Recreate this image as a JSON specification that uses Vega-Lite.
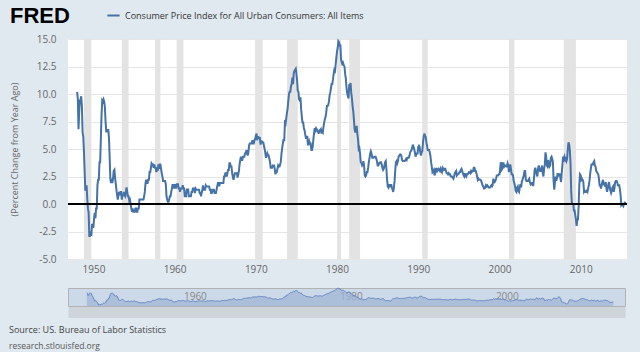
{
"$schema": "https://vega.github.io/schema/vega-lite/v6.json",
"background": "#e1e9f0",
"autosize": {"type": "pad"},
"padding": {"left": 8, "top": 5, "right": 30, "bottom": 20},
"config": {
  "font": "Open Sans",
  "locale": {"number": {"decimal": ".", "thousands": ",", "grouping": [3], "currency": ["$", ""], "minus": "-"}},
  "concat": {"spacing": 11},
  "title": {"fontWeight": "normal"}
},
"datasets": {
"rec": [
{"start":"1948-11-01","end":"1949-10-01"},
{"start":"1953-07-01","end":"1954-05-01"},
{"start":"1957-08-01","end":"1958-04-01"},
{"start":"1960-04-01","end":"1961-02-01"},
{"start":"1969-12-01","end":"1970-11-01"},
{"start":"1973-11-01","end":"1975-03-01"},
{"start":"1980-01-01","end":"1980-07-01"},
{"start":"1981-07-01","end":"1982-11-01"},
{"start":"1990-07-01","end":"1991-03-01"},
{"start":"2001-03-01","end":"2001-11-01"},
{"start":"2007-12-01","end":"2009-06-01"}
],
"cpi": [
{"d":"1948-01","v":10.2},{"d":"1948-02","v":9.5},{"d":"1948-03","v":6.8},{"d":"1948-04","v":8.3},{"d":"1948-05","v":9.4},{"d":"1948-06","v":9.5},{"d":"1948-07","v":9.8},{"d":"1948-08","v":8.9},{"d":"1948-09","v":6.5},{"d":"1948-10","v":6.1},{"d":"1948-11","v":4.8},{"d":"1948-12","v":3.0},
{"d":"1949-01","v":1.3},{"d":"1949-02","v":1.3},{"d":"1949-03","v":1.7},{"d":"1949-04","v":0.4},{"d":"1949-05","v":-0.4},{"d":"1949-06","v":-0.8},{"d":"1949-07","v":-2.9},{"d":"1949-08","v":-2.9},{"d":"1949-09","v":-2.5},{"d":"1949-10","v":-2.9},{"d":"1949-11","v":-1.8},{"d":"1949-12","v":-2.1},
{"d":"1950-01","v":-2.1},{"d":"1950-02","v":-1.3},{"d":"1950-03","v":-0.8},{"d":"1950-04","v":-1.3},{"d":"1950-05","v":-0.4},{"d":"1950-06","v":-0.4},{"d":"1950-07","v":1.7},{"d":"1950-08","v":2.2},{"d":"1950-09","v":2.2},{"d":"1950-10","v":3.8},{"d":"1950-11","v":3.8},{"d":"1950-12","v":5.9},
{"d":"1951-01","v":8.1},{"d":"1951-02","v":9.4},{"d":"1951-03","v":9.3},{"d":"1951-04","v":9.5},{"d":"1951-05","v":9.3},{"d":"1951-06","v":8.8},{"d":"1951-07","v":7.5},{"d":"1951-08","v":6.6},{"d":"1951-09","v":6.6},{"d":"1951-10","v":6.6},{"d":"1951-11","v":6.8},{"d":"1951-12","v":6.0},
{"d":"1952-01","v":4.3},{"d":"1952-02","v":2.3},{"d":"1952-03","v":1.9},{"d":"1952-04","v":2.3},{"d":"1952-05","v":1.9},{"d":"1952-06","v":2.3},{"d":"1952-07","v":3.0},{"d":"1952-08","v":3.1},{"d":"1952-09","v":2.4},{"d":"1952-10","v":1.9},{"d":"1952-11","v":1.3},{"d":"1952-12","v":0.8},
{"d":"1953-01","v":0.4},{"d":"1953-02","v":0.8},{"d":"1953-03","v":1.1},{"d":"1953-04","v":0.8},{"d":"1953-05","v":1.1},{"d":"1953-06","v":1.1},{"d":"1953-07","v":0.4},{"d":"1953-08","v":0.8},{"d":"1953-09","v":0.8},{"d":"1953-10","v":1.1},{"d":"1953-11","v":0.8},{"d":"1953-12","v":0.7},
{"d":"1954-01","v":1.1},{"d":"1954-02","v":1.5},{"d":"1954-03","v":1.1},{"d":"1954-04","v":0.7},{"d":"1954-05","v":0.7},{"d":"1954-06","v":0.3},{"d":"1954-07","v":0.4},{"d":"1954-08","v":0.0},{"d":"1954-09","v":-0.4},{"d":"1954-10","v":-0.7},{"d":"1954-11","v":-0.4},{"d":"1954-12","v":-0.7},
{"d":"1955-01","v":-0.7},{"d":"1955-02","v":-0.7},{"d":"1955-03","v":-0.4},{"d":"1955-04","v":-0.4},{"d":"1955-05","v":-0.7},{"d":"1955-06","v":-0.7},{"d":"1955-07","v":-0.4},{"d":"1955-08","v":-0.4},{"d":"1955-09","v":0.4},{"d":"1955-10","v":0.4},{"d":"1955-11","v":0.4},{"d":"1955-12","v":0.4},
{"d":"1956-01","v":0.4},{"d":"1956-02","v":0.4},{"d":"1956-03","v":0.4},{"d":"1956-04","v":0.7},{"d":"1956-05","v":1.1},{"d":"1956-06","v":1.9},{"d":"1956-07","v":2.2},{"d":"1956-08","v":1.9},{"d":"1956-09","v":1.9},{"d":"1956-10","v":2.2},{"d":"1956-11","v":2.2},{"d":"1956-12","v":2.9},
{"d":"1957-01","v":2.9},{"d":"1957-02","v":3.3},{"d":"1957-03","v":3.7},{"d":"1957-04","v":3.6},{"d":"1957-05","v":3.6},{"d":"1957-06","v":3.3},{"d":"1957-07","v":3.6},{"d":"1957-08","v":3.3},{"d":"1957-09","v":3.3},{"d":"1957-10","v":2.9},{"d":"1957-11","v":3.3},{"d":"1957-12","v":3.0},
{"d":"1958-01","v":3.6},{"d":"1958-02","v":3.2},{"d":"1958-03","v":3.6},{"d":"1958-04","v":3.6},{"d":"1958-05","v":3.2},{"d":"1958-06","v":2.8},{"d":"1958-07","v":2.5},{"d":"1958-08","v":2.1},{"d":"1958-09","v":2.1},{"d":"1958-10","v":2.1},{"d":"1958-11","v":2.1},{"d":"1958-12","v":1.8},
{"d":"1959-01","v":0.7},{"d":"1959-02","v":0.4},{"d":"1959-03","v":0.2},{"d":"1959-04","v":0.2},{"d":"1959-05","v":0.4},{"d":"1959-06","v":0.7},{"d":"1959-07","v":0.7},{"d":"1959-08","v":1.1},{"d":"1959-09","v":1.4},{"d":"1959-10","v":1.8},{"d":"1959-11","v":1.4},{"d":"1959-12","v":1.8},
{"d":"1960-01","v":1.4},{"d":"1960-02","v":1.8},{"d":"1960-03","v":1.4},{"d":"1960-04","v":1.8},{"d":"1960-05","v":1.8},{"d":"1960-06","v":1.8},{"d":"1960-07","v":1.4},{"d":"1960-08","v":1.4},{"d":"1960-09","v":1.1},{"d":"1960-10","v":1.4},{"d":"1960-11","v":1.4},{"d":"1960-12","v":1.4},
{"d":"1961-01","v":1.7},{"d":"1961-02","v":1.4},{"d":"1961-03","v":1.4},{"d":"1961-04","v":0.7},{"d":"1961-05","v":0.7},{"d":"1961-06","v":0.7},{"d":"1961-07","v":1.4},{"d":"1961-08","v":1.1},{"d":"1961-09","v":1.4},{"d":"1961-10","v":0.7},{"d":"1961-11","v":0.7},{"d":"1961-12","v":0.7},
{"d":"1962-01","v":0.7},{"d":"1962-02","v":1.1},{"d":"1962-03","v":1.1},{"d":"1962-04","v":1.4},{"d":"1962-05","v":1.4},{"d":"1962-06","v":1.4},{"d":"1962-07","v":1.0},{"d":"1962-08","v":1.4},{"d":"1962-09","v":1.3},{"d":"1962-10","v":1.3},{"d":"1962-11","v":1.3},{"d":"1962-12","v":1.3},
{"d":"1963-01","v":1.3},{"d":"1963-02","v":1.0},{"d":"1963-03","v":1.0},{"d":"1963-04","v":0.7},{"d":"1963-05","v":1.0},{"d":"1963-06","v":1.3},{"d":"1963-07","v":1.7},{"d":"1963-08","v":1.3},{"d":"1963-09","v":1.3},{"d":"1963-10","v":1.3},{"d":"1963-11","v":1.7},{"d":"1963-12","v":1.6},
{"d":"1964-01","v":1.6},{"d":"1964-02","v":1.6},{"d":"1964-03","v":1.6},{"d":"1964-04","v":1.6},{"d":"1964-05","v":1.3},{"d":"1964-06","v":1.3},{"d":"1964-07","v":1.0},{"d":"1964-08","v":1.0},{"d":"1964-09","v":1.3},{"d":"1964-10","v":1.3},{"d":"1964-11","v":1.3},{"d":"1964-12","v":1.0},
{"d":"1965-01","v":1.0},{"d":"1965-02","v":1.0},{"d":"1965-03","v":1.3},{"d":"1965-04","v":1.6},{"d":"1965-05","v":1.9},{"d":"1965-06","v":1.9},{"d":"1965-07","v":1.6},{"d":"1965-08","v":1.9},{"d":"1965-09","v":1.9},{"d":"1965-10","v":1.9},{"d":"1965-11","v":1.9},{"d":"1965-12","v":1.9},
{"d":"1966-01","v":1.9},{"d":"1966-02","v":2.5},{"d":"1966-03","v":2.5},{"d":"1966-04","v":2.8},{"d":"1966-05","v":2.8},{"d":"1966-06","v":2.5},{"d":"1966-07","v":2.8},{"d":"1966-08","v":3.1},{"d":"1966-09","v":3.1},{"d":"1966-10","v":3.7},{"d":"1966-11","v":3.7},{"d":"1966-12","v":3.4},
{"d":"1967-01","v":3.4},{"d":"1967-02","v":2.8},{"d":"1967-03","v":2.5},{"d":"1967-04","v":2.2},{"d":"1967-05","v":2.5},{"d":"1967-06","v":2.8},{"d":"1967-07","v":2.8},{"d":"1967-08","v":2.8},{"d":"1967-09","v":2.8},{"d":"1967-10","v":2.4},{"d":"1967-11","v":2.7},{"d":"1967-12","v":3.0},
{"d":"1968-01","v":3.6},{"d":"1968-02","v":4.0},{"d":"1968-03","v":4.3},{"d":"1968-04","v":4.0},{"d":"1968-05","v":4.0},{"d":"1968-06","v":4.3},{"d":"1968-07","v":4.3},{"d":"1968-08","v":4.3},{"d":"1968-09","v":4.6},{"d":"1968-10","v":4.6},{"d":"1968-11","v":4.9},{"d":"1968-12","v":4.7},
{"d":"1969-01","v":4.4},{"d":"1969-02","v":4.7},{"d":"1969-03","v":5.3},{"d":"1969-04","v":5.5},{"d":"1969-05","v":5.5},{"d":"1969-06","v":5.5},{"d":"1969-07","v":5.5},{"d":"1969-08","v":5.8},{"d":"1969-09","v":5.5},{"d":"1969-10","v":5.5},{"d":"1969-11","v":5.8},{"d":"1969-12","v":5.9},
{"d":"1970-01","v":6.2},{"d":"1970-02","v":6.4},{"d":"1970-03","v":5.8},{"d":"1970-04","v":6.1},{"d":"1970-05","v":6.1},{"d":"1970-06","v":6.0},{"d":"1970-07","v":6.0},{"d":"1970-08","v":5.4},{"d":"1970-09","v":5.7},{"d":"1970-10","v":5.7},{"d":"1970-11","v":5.6},{"d":"1970-12","v":5.6},
{"d":"1971-01","v":5.3},{"d":"1971-02","v":5.0},{"d":"1971-03","v":4.7},{"d":"1971-04","v":4.2},{"d":"1971-05","v":4.4},{"d":"1971-06","v":4.6},{"d":"1971-07","v":4.4},{"d":"1971-08","v":4.4},{"d":"1971-09","v":4.1},{"d":"1971-10","v":3.8},{"d":"1971-11","v":3.3},{"d":"1971-12","v":3.3},
{"d":"1972-01","v":3.3},{"d":"1972-02","v":3.5},{"d":"1972-03","v":3.5},{"d":"1972-04","v":3.5},{"d":"1972-05","v":3.2},{"d":"1972-06","v":2.7},{"d":"1972-07","v":2.9},{"d":"1972-08","v":2.9},{"d":"1972-09","v":3.2},{"d":"1972-10","v":3.5},{"d":"1972-11","v":3.4},{"d":"1972-12","v":3.4},
{"d":"1973-01","v":3.6},{"d":"1973-02","v":3.9},{"d":"1973-03","v":4.6},{"d":"1973-04","v":5.1},{"d":"1973-05","v":5.5},{"d":"1973-06","v":5.9},{"d":"1973-07","v":5.7},{"d":"1973-08","v":7.4},{"d":"1973-09","v":7.3},{"d":"1973-10","v":7.8},{"d":"1973-11","v":8.3},{"d":"1973-12","v":8.7},
{"d":"1974-01","v":9.4},{"d":"1974-02","v":10.0},{"d":"1974-03","v":10.2},{"d":"1974-04","v":10.2},{"d":"1974-05","v":10.7},{"d":"1974-06","v":10.9},{"d":"1974-07","v":11.5},{"d":"1974-08","v":10.9},{"d":"1974-09","v":11.9},{"d":"1974-10","v":12.1},{"d":"1974-11","v":12.2},{"d":"1974-12","v":12.3},
{"d":"1975-01","v":11.8},{"d":"1975-02","v":11.2},{"d":"1975-03","v":10.3},{"d":"1975-04","v":10.2},{"d":"1975-05","v":9.5},{"d":"1975-06","v":9.4},{"d":"1975-07","v":9.7},{"d":"1975-08","v":8.6},{"d":"1975-09","v":7.9},{"d":"1975-10","v":7.4},{"d":"1975-11","v":7.4},{"d":"1975-12","v":6.9},
{"d":"1976-01","v":6.7},{"d":"1976-02","v":6.3},{"d":"1976-03","v":6.0},{"d":"1976-04","v":6.0},{"d":"1976-05","v":6.2},{"d":"1976-06","v":5.4},{"d":"1976-07","v":5.4},{"d":"1976-08","v":5.7},{"d":"1976-09","v":5.5},{"d":"1976-10","v":5.5},{"d":"1976-11","v":4.9},{"d":"1976-12","v":4.9},
{"d":"1977-01","v":5.2},{"d":"1977-02","v":5.9},{"d":"1977-03","v":6.4},{"d":"1977-04","v":6.9},{"d":"1977-05","v":6.7},{"d":"1977-06","v":6.9},{"d":"1977-07","v":6.8},{"d":"1977-08","v":6.6},{"d":"1977-09","v":6.6},{"d":"1977-10","v":6.4},{"d":"1977-11","v":6.7},{"d":"1977-12","v":6.7},
{"d":"1978-01","v":6.8},{"d":"1978-02","v":6.4},{"d":"1978-03","v":6.6},{"d":"1978-04","v":6.5},{"d":"1978-05","v":7.0},{"d":"1978-06","v":7.4},{"d":"1978-07","v":7.7},{"d":"1978-08","v":7.9},{"d":"1978-09","v":8.3},{"d":"1978-10","v":8.9},{"d":"1978-11","v":8.9},{"d":"1978-12","v":9.0},
{"d":"1979-01","v":9.3},{"d":"1979-02","v":9.9},{"d":"1979-03","v":10.1},{"d":"1979-04","v":10.5},{"d":"1979-05","v":10.9},{"d":"1979-06","v":10.9},{"d":"1979-07","v":11.3},{"d":"1979-08","v":11.8},{"d":"1979-09","v":12.2},{"d":"1979-10","v":12.1},{"d":"1979-11","v":12.7},{"d":"1979-12","v":13.3},
{"d":"1980-01","v":13.9},{"d":"1980-02","v":14.2},{"d":"1980-03","v":14.8},{"d":"1980-04","v":14.7},{"d":"1980-05","v":14.4},{"d":"1980-06","v":14.4},{"d":"1980-07","v":13.1},{"d":"1980-08","v":12.9},{"d":"1980-09","v":12.6},{"d":"1980-10","v":12.8},{"d":"1980-11","v":12.6},{"d":"1980-12","v":12.5},
{"d":"1981-01","v":11.8},{"d":"1981-02","v":11.4},{"d":"1981-03","v":10.6},{"d":"1981-04","v":10.1},{"d":"1981-05","v":9.8},{"d":"1981-06","v":9.6},{"d":"1981-07","v":10.8},{"d":"1981-08","v":10.8},{"d":"1981-09","v":11.0},{"d":"1981-10","v":10.1},{"d":"1981-11","v":9.6},{"d":"1981-12","v":8.9},
{"d":"1982-01","v":8.4},{"d":"1982-02","v":7.6},{"d":"1982-03","v":6.8},{"d":"1982-04","v":6.5},{"d":"1982-05","v":6.7},{"d":"1982-06","v":7.1},{"d":"1982-07","v":6.4},{"d":"1982-08","v":5.9},{"d":"1982-09","v":5.0},{"d":"1982-10","v":5.1},{"d":"1982-11","v":4.6},{"d":"1982-12","v":3.8},
{"d":"1983-01","v":3.7},{"d":"1983-02","v":3.5},{"d":"1983-03","v":3.6},{"d":"1983-04","v":3.9},{"d":"1983-05","v":3.5},{"d":"1983-06","v":2.6},{"d":"1983-07","v":2.5},{"d":"1983-08","v":2.6},{"d":"1983-09","v":2.9},{"d":"1983-10","v":2.9},{"d":"1983-11","v":3.3},{"d":"1983-12","v":3.8},
{"d":"1984-01","v":4.2},{"d":"1984-02","v":4.6},{"d":"1984-03","v":4.8},{"d":"1984-04","v":4.6},{"d":"1984-05","v":4.2},{"d":"1984-06","v":4.2},{"d":"1984-07","v":4.2},{"d":"1984-08","v":4.3},{"d":"1984-09","v":4.3},{"d":"1984-10","v":4.3},{"d":"1984-11","v":4.1},{"d":"1984-12","v":3.9},
{"d":"1985-01","v":3.5},{"d":"1985-02","v":3.5},{"d":"1985-03","v":3.7},{"d":"1985-04","v":3.7},{"d":"1985-05","v":3.8},{"d":"1985-06","v":3.8},{"d":"1985-07","v":3.6},{"d":"1985-08","v":3.3},{"d":"1985-09","v":3.1},{"d":"1985-10","v":3.2},{"d":"1985-11","v":3.5},{"d":"1985-12","v":3.8},
{"d":"1986-01","v":3.9},{"d":"1986-02","v":3.1},{"d":"1986-03","v":2.2},{"d":"1986-04","v":1.6},{"d":"1986-05","v":1.5},{"d":"1986-06","v":1.8},{"d":"1986-07","v":1.6},{"d":"1986-08","v":1.6},{"d":"1986-09","v":1.8},{"d":"1986-10","v":1.5},{"d":"1986-11","v":1.3},{"d":"1986-12","v":1.1},
{"d":"1987-01","v":1.5},{"d":"1987-02","v":2.1},{"d":"1987-03","v":3.0},{"d":"1987-04","v":3.8},{"d":"1987-05","v":3.9},{"d":"1987-06","v":3.7},{"d":"1987-07","v":3.9},{"d":"1987-08","v":4.3},{"d":"1987-09","v":4.4},{"d":"1987-10","v":4.5},{"d":"1987-11","v":4.5},{"d":"1987-12","v":4.4},
{"d":"1988-01","v":4.0},{"d":"1988-02","v":3.9},{"d":"1988-03","v":3.9},{"d":"1988-04","v":3.9},{"d":"1988-05","v":3.9},{"d":"1988-06","v":4.0},{"d":"1988-07","v":4.1},{"d":"1988-08","v":4.0},{"d":"1988-09","v":4.2},{"d":"1988-10","v":4.2},{"d":"1988-11","v":4.2},{"d":"1988-12","v":4.4},
{"d":"1989-01","v":4.7},{"d":"1989-02","v":4.8},{"d":"1989-03","v":4.9},{"d":"1989-04","v":5.1},{"d":"1989-05","v":5.4},{"d":"1989-06","v":5.2},{"d":"1989-07","v":5.0},{"d":"1989-08","v":4.7},{"d":"1989-09","v":4.3},{"d":"1989-10","v":4.5},{"d":"1989-11","v":4.6},{"d":"1989-12","v":4.6},
{"d":"1990-01","v":5.2},{"d":"1990-02","v":5.3},{"d":"1990-03","v":5.2},{"d":"1990-04","v":4.7},{"d":"1990-05","v":4.4},{"d":"1990-06","v":4.7},{"d":"1990-07","v":4.8},{"d":"1990-08","v":5.6},{"d":"1990-09","v":6.1},{"d":"1990-10","v":6.4},{"d":"1990-11","v":6.2},{"d":"1990-12","v":6.1},
{"d":"1991-01","v":5.6},{"d":"1991-02","v":5.3},{"d":"1991-03","v":4.9},{"d":"1991-04","v":4.9},{"d":"1991-05","v":4.9},{"d":"1991-06","v":4.7},{"d":"1991-07","v":4.4},{"d":"1991-08","v":3.8},{"d":"1991-09","v":3.4},{"d":"1991-10","v":2.9},{"d":"1991-11","v":3.0},{"d":"1991-12","v":3.1},
{"d":"1992-01","v":2.6},{"d":"1992-02","v":2.8},{"d":"1992-03","v":3.2},{"d":"1992-04","v":3.2},{"d":"1992-05","v":3.0},{"d":"1992-06","v":3.1},{"d":"1992-07","v":3.2},{"d":"1992-08","v":3.1},{"d":"1992-09","v":3.0},{"d":"1992-10","v":3.2},{"d":"1992-11","v":3.0},{"d":"1992-12","v":2.9},
{"d":"1993-01","v":3.3},{"d":"1993-02","v":3.2},{"d":"1993-03","v":3.1},{"d":"1993-04","v":3.2},{"d":"1993-05","v":3.2},{"d":"1993-06","v":3.0},{"d":"1993-07","v":2.8},{"d":"1993-08","v":2.8},{"d":"1993-09","v":2.7},{"d":"1993-10","v":2.8},{"d":"1993-11","v":2.7},{"d":"1993-12","v":2.7},
{"d":"1994-01","v":2.5},{"d":"1994-02","v":2.5},{"d":"1994-03","v":2.5},{"d":"1994-04","v":2.4},{"d":"1994-05","v":2.3},{"d":"1994-06","v":2.5},{"d":"1994-07","v":2.8},{"d":"1994-08","v":2.9},{"d":"1994-09","v":3.0},{"d":"1994-10","v":2.6},{"d":"1994-11","v":2.7},{"d":"1994-12","v":2.7},
{"d":"1995-01","v":2.8},{"d":"1995-02","v":2.9},{"d":"1995-03","v":2.9},{"d":"1995-04","v":3.1},{"d":"1995-05","v":3.2},{"d":"1995-06","v":3.0},{"d":"1995-07","v":2.8},{"d":"1995-08","v":2.6},{"d":"1995-09","v":2.5},{"d":"1995-10","v":2.8},{"d":"1995-11","v":2.6},{"d":"1995-12","v":2.5},
{"d":"1996-01","v":2.7},{"d":"1996-02","v":2.7},{"d":"1996-03","v":2.8},{"d":"1996-04","v":2.9},{"d":"1996-05","v":2.9},{"d":"1996-06","v":2.8},{"d":"1996-07","v":3.0},{"d":"1996-08","v":2.9},{"d":"1996-09","v":3.0},{"d":"1996-10","v":3.0},{"d":"1996-11","v":3.3},{"d":"1996-12","v":3.3},
{"d":"1997-01","v":3.0},{"d":"1997-02","v":3.0},{"d":"1997-03","v":2.8},{"d":"1997-04","v":2.5},{"d":"1997-05","v":2.2},{"d":"1997-06","v":2.3},{"d":"1997-07","v":2.2},{"d":"1997-08","v":2.2},{"d":"1997-09","v":2.2},{"d":"1997-10","v":2.1},{"d":"1997-11","v":1.9},{"d":"1997-12","v":1.7},
{"d":"1998-01","v":1.6},{"d":"1998-02","v":1.4},{"d":"1998-03","v":1.4},{"d":"1998-04","v":1.5},{"d":"1998-05","v":1.7},{"d":"1998-06","v":1.6},{"d":"1998-07","v":1.7},{"d":"1998-08","v":1.6},{"d":"1998-09","v":1.5},{"d":"1998-10","v":1.5},{"d":"1998-11","v":1.5},{"d":"1998-12","v":1.6},
{"d":"1999-01","v":1.7},{"d":"1999-02","v":1.6},{"d":"1999-03","v":1.7},{"d":"1999-04","v":2.3},{"d":"1999-05","v":2.1},{"d":"1999-06","v":2.0},{"d":"1999-07","v":2.1},{"d":"1999-08","v":2.3},{"d":"1999-09","v":2.6},{"d":"1999-10","v":2.6},{"d":"1999-11","v":2.6},{"d":"1999-12","v":2.7},
{"d":"2000-01","v":2.7},{"d":"2000-02","v":3.2},{"d":"2000-03","v":3.8},{"d":"2000-04","v":3.1},{"d":"2000-05","v":3.2},{"d":"2000-06","v":3.7},{"d":"2000-07","v":3.7},{"d":"2000-08","v":3.4},{"d":"2000-09","v":3.5},{"d":"2000-10","v":3.5},{"d":"2000-11","v":3.4},{"d":"2000-12","v":3.4},
{"d":"2001-01","v":3.7},{"d":"2001-02","v":3.5},{"d":"2001-03","v":2.9},{"d":"2001-04","v":3.3},{"d":"2001-05","v":3.6},{"d":"2001-06","v":3.2},{"d":"2001-07","v":2.7},{"d":"2001-08","v":2.7},{"d":"2001-09","v":2.6},{"d":"2001-10","v":2.1},{"d":"2001-11","v":1.9},{"d":"2001-12","v":1.6},
{"d":"2002-01","v":1.2},{"d":"2002-02","v":1.1},{"d":"2002-03","v":1.5},{"d":"2002-04","v":1.6},{"d":"2002-05","v":1.2},{"d":"2002-06","v":1.1},{"d":"2002-07","v":1.5},{"d":"2002-08","v":1.8},{"d":"2002-09","v":1.5},{"d":"2002-10","v":2.0},{"d":"2002-11","v":2.2},{"d":"2002-12","v":2.4},
{"d":"2003-01","v":2.6},{"d":"2003-02","v":3.0},{"d":"2003-03","v":3.0},{"d":"2003-04","v":2.2},{"d":"2003-05","v":2.1},{"d":"2003-06","v":2.1},{"d":"2003-07","v":2.1},{"d":"2003-08","v":2.2},{"d":"2003-09","v":2.3},{"d":"2003-10","v":2.0},{"d":"2003-11","v":1.8},{"d":"2003-12","v":1.9},
{"d":"2004-01","v":1.9},{"d":"2004-02","v":1.7},{"d":"2004-03","v":1.7},{"d":"2004-04","v":2.3},{"d":"2004-05","v":3.1},{"d":"2004-06","v":3.3},{"d":"2004-07","v":3.0},{"d":"2004-08","v":2.7},{"d":"2004-09","v":2.5},{"d":"2004-10","v":3.2},{"d":"2004-11","v":3.5},{"d":"2004-12","v":3.3},
{"d":"2005-01","v":3.0},{"d":"2005-02","v":3.0},{"d":"2005-03","v":3.1},{"d":"2005-04","v":3.5},{"d":"2005-05","v":2.8},{"d":"2005-06","v":2.5},{"d":"2005-07","v":3.2},{"d":"2005-08","v":3.6},{"d":"2005-09","v":4.7},{"d":"2005-10","v":4.3},{"d":"2005-11","v":3.5},{"d":"2005-12","v":3.4},
{"d":"2006-01","v":4.0},{"d":"2006-02","v":3.6},{"d":"2006-03","v":3.4},{"d":"2006-04","v":3.5},{"d":"2006-05","v":4.2},{"d":"2006-06","v":4.3},{"d":"2006-07","v":4.1},{"d":"2006-08","v":3.8},{"d":"2006-09","v":2.1},{"d":"2006-10","v":1.3},{"d":"2006-11","v":2.0},{"d":"2006-12","v":2.5},
{"d":"2007-01","v":2.1},{"d":"2007-02","v":2.4},{"d":"2007-03","v":2.8},{"d":"2007-04","v":2.6},{"d":"2007-05","v":2.7},{"d":"2007-06","v":2.7},{"d":"2007-07","v":2.4},{"d":"2007-08","v":2.0},{"d":"2007-09","v":2.8},{"d":"2007-10","v":3.5},{"d":"2007-11","v":4.3},{"d":"2007-12","v":4.1},
{"d":"2008-01","v":4.3},{"d":"2008-02","v":4.0},{"d":"2008-03","v":4.1},{"d":"2008-04","v":3.9},{"d":"2008-05","v":4.1},{"d":"2008-06","v":5.0},{"d":"2008-07","v":5.6},{"d":"2008-08","v":5.4},{"d":"2008-09","v":4.9},{"d":"2008-10","v":3.7},{"d":"2008-11","v":1.1},{"d":"2008-12","v":0.1},
{"d":"2009-01","v":0.0},{"d":"2009-02","v":0.0},{"d":"2009-03","v":-0.6},{"d":"2009-04","v":-0.6},{"d":"2009-05","v":-1.0},{"d":"2009-06","v":-1.4},{"d":"2009-07","v":-2.0},{"d":"2009-08","v":-1.5},{"d":"2009-09","v":-1.4},{"d":"2009-10","v":-0.2},{"d":"2009-11","v":1.8},{"d":"2009-12","v":2.7},
{"d":"2010-01","v":2.6},{"d":"2010-02","v":2.2},{"d":"2010-03","v":2.3},{"d":"2010-04","v":2.2},{"d":"2010-05","v":2.0},{"d":"2010-06","v":1.1},{"d":"2010-07","v":1.2},{"d":"2010-08","v":1.1},{"d":"2010-09","v":1.1},{"d":"2010-10","v":1.2},{"d":"2010-11","v":1.1},{"d":"2010-12","v":1.4},
{"d":"2011-01","v":1.7},{"d":"2011-02","v":2.1},{"d":"2011-03","v":2.7},{"d":"2011-04","v":3.2},{"d":"2011-05","v":3.6},{"d":"2011-06","v":3.6},{"d":"2011-07","v":3.6},{"d":"2011-08","v":3.8},{"d":"2011-09","v":3.9},{"d":"2011-10","v":3.5},{"d":"2011-11","v":3.4},{"d":"2011-12","v":3.0},
{"d":"2012-01","v":2.9},{"d":"2012-02","v":2.8},{"d":"2012-03","v":2.7},{"d":"2012-04","v":2.3},{"d":"2012-05","v":1.7},{"d":"2012-06","v":1.7},{"d":"2012-07","v":1.4},{"d":"2012-08","v":1.7},{"d":"2012-09","v":2.0},{"d":"2012-10","v":2.2},{"d":"2012-11","v":1.8},{"d":"2012-12","v":1.8},
{"d":"2013-01","v":1.6},{"d":"2013-02","v":2.0},{"d":"2013-03","v":1.5},{"d":"2013-04","v":1.1},{"d":"2013-05","v":1.4},{"d":"2013-06","v":1.8},{"d":"2013-07","v":2.0},{"d":"2013-08","v":1.5},{"d":"2013-09","v":1.2},{"d":"2013-10","v":1.0},{"d":"2013-11","v":1.2},{"d":"2013-12","v":1.5},
{"d":"2014-01","v":1.6},{"d":"2014-02","v":1.1},{"d":"2014-03","v":1.5},{"d":"2014-04","v":2.0},{"d":"2014-05","v":2.1},{"d":"2014-06","v":2.1},{"d":"2014-07","v":2.0},{"d":"2014-08","v":1.7},{"d":"2014-09","v":1.7},{"d":"2014-10","v":1.7},{"d":"2014-11","v":1.3},{"d":"2014-12","v":0.8},
{"d":"2015-01","v":-0.1},{"d":"2015-02","v":0.0},{"d":"2015-03","v":-0.1},{"d":"2015-04","v":-0.2},{"d":"2015-05","v":0.0},{"d":"2015-06","v":0.1},{"d":"2015-07","v":0.2}
]
},
"vconcat": [
{
  "width": 559,
  "height": 220,
  "view": {"fill": "#ffffff", "stroke": null},
  "title": {"text": "FRED", "anchor": "start", "frame": "group", "font": "Liberation Sans", "fontSize": 22, "fontWeight": "bold", "color": "#000000", "dx": -58, "offset": -11, "baseline": "alphabetic"},
  "layer": [
    {
      "data": {"name": "rec"},
      "mark": {"type": "rect", "color": "#e3e3e3"},
      "encoding": {
        "x": {"field": "start", "type": "temporal"},
        "x2": {"field": "end"}
      }
    },
    {
      "data": {"name": "cpi"},
      "mark": {"type": "line", "strokeWidth": 2, "interpolate": "linear"},
      "encoding": {
        "x": {"field": "d", "type": "temporal",
              "scale": {"domain": ["1946-11-15", "2015-09-15"]},
              "axis": {"title": null, "format": "%Y", "tickCount": {"interval": "year", "step": 10}, "grid": false, "ticks": false, "domain": false, "labelPadding": 5, "labelFontSize": 10, "labelColor": "#666666", "labelFont": "Open Sans"}},
        "y": {"field": "v", "type": "quantitative",
              "scale": {"domain": [-5, 15], "nice": false, "zero": false},
              "axis": {"title": "(Percent Change from Year Ago)", "values": [-5, -2.5, 0, 2.5, 5, 7.5, 10, 12.5, 15], "labelOverlap": false, "format": ".1f", "grid": true, "gridColor": "#e6e6e6", "ticks": false, "domain": false, "labelPadding": 12, "labelFontSize": 10, "labelColor": "#666666", "labelFont": "Open Sans", "titleFont": "Open Sans", "titleFontSize": 9, "titleFontWeight": "normal", "titleColor": "#666666", "titlePadding": 17}},
        "color": {"datum": "Consumer Price Index for All Urban Consumers: All Items", "type": "nominal",
                  "scale": {"range": ["#4572a7"]},
                  "legend": {"title": null, "orient": "none", "legendX": 38, "legendY": -31, "symbolType": "stroke", "symbolSize": 150, "symbolStrokeWidth": 2, "labelFont": "Open Sans", "labelFontSize": 9, "labelColor": "#333333", "labelOffset": 4, "labelLimit": 400}}
      }
    },
    {
      "data": {"values": [{}]},
      "mark": {"type": "rule", "color": "#000000", "strokeWidth": 2},
      "encoding": {"y": {"datum": 0, "type": "quantitative",
              "axis": {"title": "(Percent Change from Year Ago)", "values": [-5, -2.5, 0, 2.5, 5, 7.5, 10, 12.5, 15], "labelOverlap": false, "format": ".1f", "grid": true, "gridColor": "#e6e6e6", "ticks": false, "domain": false, "labelPadding": 12, "labelFontSize": 10, "labelColor": "#666666", "labelFont": "Open Sans", "titleFont": "Open Sans", "titleFontSize": 9, "titleFontWeight": "normal", "titleColor": "#666666", "titlePadding": 17}}}
    }
  ]
},
{
  "width": 557,
  "height": 18,
  "data": {"name": "cpi"},
  "view": {"fill": "#ccd9e8", "stroke": "#b2b2b2"},
  "title": {"text": "Source: US. Bureau of Labor Statistics", "subtitle": "research.stlouisfed.org", "orient": "bottom", "anchor": "start", "frame": "group", "dx": -59, "offset": 14, "font": "Open Sans", "fontSize": 9, "color": "#444444", "subtitleFont": "Open Sans", "subtitleFontSize": 8.5, "subtitleColor": "#555555", "subtitlePadding": 7},
  "mark": {"type": "area", "color": "#9db3d6", "line": {"color": "#6685c2", "strokeWidth": 1}},
  "encoding": {
    "x": {"field": "d", "type": "temporal",
          "scale": {"domain": ["1945-08-01", "2017-01-01"]},
          "axis": {"title": null, "format": "%Y", "tickCount": {"interval": "year", "step": 20}, "grid": false, "ticks": false, "domain": true, "domainWidth": 11, "domainColor": "#cfd4da", "offset": 6, "labelAlign": "left", "labelOffset": 3, "labelBaseline": "middle", "labelPadding": -16, "labelFontSize": 10, "labelColor": "#888888", "labelFont": "Open Sans"}},
    "y": {"field": "v", "type": "quantitative", "scale": {"domain": [-4, 15], "nice": false, "zero": false}, "axis": null},
    "y2": {"datum": -4}
  }
}
]
}
